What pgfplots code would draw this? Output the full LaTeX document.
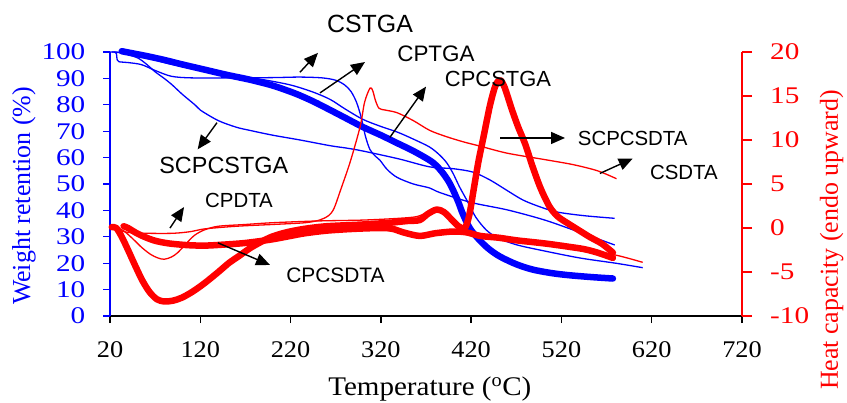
\documentclass[border=0pt]{standalone}
\usepackage{fontspec}
\setmainfont{Liberation Serif}
\newfontfamily\arial{Liberation Sans}
\usepackage{graphicx}
\usepackage{pgfplots}
\pgfplotsset{compat=1.18}
\usetikzlibrary{arrows.meta}

\definecolor{tgablue}{RGB}{0,0,255}
\definecolor{dtared}{RGB}{255,0,0}

\pgfplotsset{
  base/.style={
    at={(110bp,87bp)}, anchor=south west,
    scale only axis, width=632bp, height=264bp,
    xmin=20, xmax=720, clip=false,
    tick align=outside,
    /pgf/number format/assume math mode=true,
    tick label style={font=\fontsize{24}{24}\selectfont},
    yticklabel={\scalebox{1.22}[1]{\pgfmathprintnumber{\tick}}},
    xticklabel={\scalebox{1.1}[1]{\pgfmathprintnumber{\tick}}},
  },
}
\tikzset{
  fineline/.style={line width=1.3bp, smooth, tension=0.5, line join=round},
  heavyline/.style={line width=6.5bp, smooth, tension=0.5, line join=round, line cap=round},
  note/.style={font=\arial\fontsize{21}{21}\selectfont, text=black, inner sep=0pt},
  arr/.style={-{Triangle[length=14bp,width=12bp]}, line width=1.4bp, black},
  axlabel/.style={font=\fontsize{26}{26}\selectfont},
}

\begin{document}
\begin{tikzpicture}
\useasboundingbox (0,0) rectangle (847bp,403bp);

% TGA, left axis
\begin{axis}[base,
  ymin=0, ymax=100,
  xtick={20,120,...,720}, ytick={0,10,...,100},
  axis x line*=bottom, axis y line*=left,
  x axis line style={black, line width=1.6bp, -},
  y axis line style={tgablue, line width=1.6bp, -},
  xtick style={black, line width=1.3bp},
  ytick style={tgablue, line width=1.3bp},
  major tick length=7bp,
  xticklabel style={text=black, anchor=north, inner sep=0pt, yshift=-18bp},
  yticklabel style={text=tgablue, anchor=east, inner sep=0pt, xshift=-17.5bp},
  xlabel={\scalebox{1.08}[1]{Temperature (\textsuperscript{o}C)}},
  every axis x label/.style={at={(axis description cs:0.506,-0.276)}, anchor=center, font=\fontsize{27}{27}\selectfont},
  ylabel={Weight retention (\%)},
  every axis y label/.style={at={(axis description cs:-0.136,0.455)}, rotate=90, anchor=center, text=tgablue, axlabel},
  no markers,
]
% CPCSTGA
\addplot[tgablue, heavyline] coordinates {
(33,100.3)(45,99.5)(60,98.5)(80,97)(100,95.3)(125,93.3)(150,91.3)(175,89.5)
(200,87.3)(225,84.3)(245,81.3)(264,78)(282,74.8)(300,71.6)(320,68.5)(338,65.5)
(356,62.5)(374,59)(382,56.8)(389,54)(395,51)(400,47.7)(406,43)(411,38.5)
(419,33)(430,28.5)(440,25.3)(452,22.5)(470,19.6)(488,17.6)(510,16.2)(530,15.4)
(555,14.7)(577,14.2)};
% CSTGA
\addplot[tgablue, fineline] coordinates {
(20,100)(25,100)(27,99.5)(28,97)(30,96.3)(40,96)(55,95.2)(70,93)(88,90.8)
(110,90.2)(150,90.2)(200,90.3)(230,90.5)(255,90.2)(270,89.3)(280,87.5)(287,85)
(293,81)(298,75.5)(303,68)(308,63)(314,60.5)(319,59)(327,55.5)(338,52.5)
(356,50)(374,48.5)(385,46.8)(420,43)(460,40.2)(500,36.5)(533,32.6)(579,26.9)};
% SCPCSTGA
\addplot[tgablue, fineline] coordinates {
(22,100)(30,99.8)(40,99)(51,97.7)(60,95.5)(70,92.5)(80,90)(89,87.5)(100,84)
(114,80)(120,78)(140,74)(160,71.5)(175,70.3)(200,68.5)(230,66.7)(264,64.5)
(282,63.6)(300,62.5)(340,59.5)(374,56.5)(400,55.8)(422,54.5)(441,51.5)
(460,47.5)(477,44)(495,41.5)(515,39.4)(545,38)(579,37)};
% CPTGA
\addplot[tgablue, fineline] coordinates {
(25,100)(40,99.5)(60,98)(80,96)(100,94.5)(130,92.5)(160,91)(190,89.5)
(220,87.5)(245,84.8)(264,82)(280,78.5)(300,74.5)(320,71.8)(338,69.7)(356,67)
(374,64)(385,61)(393,58)(400,54)(407,49)(415,44)(425,37.5)(437,32.5)
(450,29.5)(470,27)(496,25)(540,22)(580,20)(610,18.3)};
\end{axis}

% DTA, right axis
\begin{axis}[base,
  ymin=-10, ymax=20, ytick={-10,-5,...,20},
  axis x line=none, axis y line*=right,
  y axis line style={dtared, line width=1.6bp, -},
  ytick style={dtared, line width=1.3bp},
  major tick length=10bp,
  yticklabel style={text=dtared, anchor=west, inner sep=0pt, xshift=18bp},
  ylabel={Heat capacity (endo upward)},
  every axis y label/.style={at={(axis description cs:1.142,0.288)}, rotate=90, anchor=center, text=dtared, axlabel},
  no markers,
]
% CSDTA
\addplot[dtared, fineline] coordinates {
(22,0)(28,-0.2)(40,-0.5)(60,-0.6)(90,-0.6)(110,-0.4)(125,-0.1)(160,0.2)
(200,0.4)(236,0.6)(252,0.9)(262,1.4)(268,2.2)(275,4.2)(286,7.5)(297,11.5)
(302,14.3)(308,15.9)(311,15.6)(314,14.5)(318,13.6)(325,13.4)(338,13.1)
(356,12.2)(374,11.1)(392,10.4)(411,9.8)(430,9.3)(460,8.5)(500,7.8)(533,7.2)
(560,6.5)(581,5.6)};
% CPDTA
\addplot[dtared, fineline] coordinates {
(28,0)(35,-0.3)(45,-1.2)(55,-2.2)(65,-3)(73,-3.4)(80,-3.55)(88,-3.3)(95,-2.8)
(105,-1.7)(114,-0.8)(125,-0.2)(140,0.2)(170,0.4)(200,0.6)(250,0.8)(300,0.9)
(340,1.1)(360,1.3)(372,1.8)(382,2.1)(392,1.6)(402,0.6)(412,-0.3)(430,-0.8)
(450,-1.0)(488,-1.5)(526,-2.3)(550,-2.6)(581,-3.1)(610,-3.9)};
% CPCSDTA
\addplot[dtared, heavyline] coordinates {
(35,0.2)(40,0)(48,-0.5)(58,-1.0)(70,-1.45)(85,-1.75)(106,-1.95)(125,-2.0)
(144,-1.9)(170,-1.7)(199,-1.3)(220,-0.9)(236,-0.6)(260,-0.3)(290,-0.1)
(320,0)(333,-0.1)(345,-0.5)(363,-0.9)(380,-0.6)(400,-0.4)(415,-0.5)(430,-0.9)
(450,-1.1)(470,-1.4)(488,-1.6)(505,-1.8)(526,-2.1)(545,-2.4)(560,-2.8)(577,-3.4)};
% SCPCSDTA
\addplot[dtared, heavyline] coordinates {
(22,0.1)(27,0)(33,-1)(40,-2.5)(48,-4.3)(56,-6)(64,-7.3)(72,-8.1)(80,-8.35)
(90,-8.25)(100,-7.9)(112,-7.2)(125,-6.25)(140,-5.0)(152,-3.95)(162,-3.25)
(175,-2.3)(187,-1.6)(199,-1.0)(215,-0.5)(235,-0.1)(260,0.2)(300,0.4)(330,0.6)
(350,0.8)(363,0.9)(372,1.6)(382,2.1)(390,1.8)(398,1.0)(406,0.2)(413,0)
(418,1.5)(423,4.5)(428,7.5)(434,10.5)(441,14)(447,16.2)(452,16.8)(457,16)
(465,13.5)(472,11.5)(480,9.5)(488,7)(497,4.5)(507,2.4)(516,1.3)(526,0.6)
(540,-0.3)(551,-1)(565,-1.8)(577,-2.8)};

% labels and arrows
\node[note, font=\arial\fontsize{25}{25}\selectfont] at (axis cs:308,23.2) {CSTGA};
\draw[arr] (axis cs:230.4,17.7) -- (axis cs:250.3,19.9);
\node[note, font=\arial\fontsize{22.5}{22.5}\selectfont] at (axis cs:381,19.8) {CPTGA};
\draw[arr] (axis cs:252.6,15.35) -- (axis cs:302.4,18.86);
\node[note, font=\arial\fontsize{22}{22}\selectfont] at (axis cs:449.7,16.9) {CPCSTGA};
\draw[arr] (axis cs:330,10.3) -- (axis cs:370,16.06);
\node[note, font=\arial\fontsize{23.5}{23.5}\selectfont] at (axis cs:146,7.1) {SCPCSTGA};
\draw[arr] (axis cs:138.5,11.97) -- (axis cs:117.1,8.94);
\node[note, font=\arial\fontsize{20.5}{20.5}\selectfont] at (axis cs:162.9,3.1) {CPDTA};
\draw[arr] (axis cs:86.4,-0.01) -- (axis cs:102,2.38);
\node[note, anchor=west] at (axis cs:215,-5.35) {CPCSDTA};
\draw[arr] (axis cs:139.6,-1.69) -- (axis cs:197.2,-4.2);
\node[note, font=\arial\fontsize{20.5}{20.5}\selectfont, anchor=west] at (axis cs:538,10.17) {SCPCSDTA};
\draw[arr] (axis cs:452,10.23) -- (axis cs:524,10.23);
\node[note, font=\arial\fontsize{20.5}{20.5}\selectfont, anchor=west] at (axis cs:618,6.36) {CSDTA};
\draw[arr] (axis cs:562.6,6.2) -- (axis cs:599,7.9);
\end{axis}
\end{tikzpicture}
\end{document}
